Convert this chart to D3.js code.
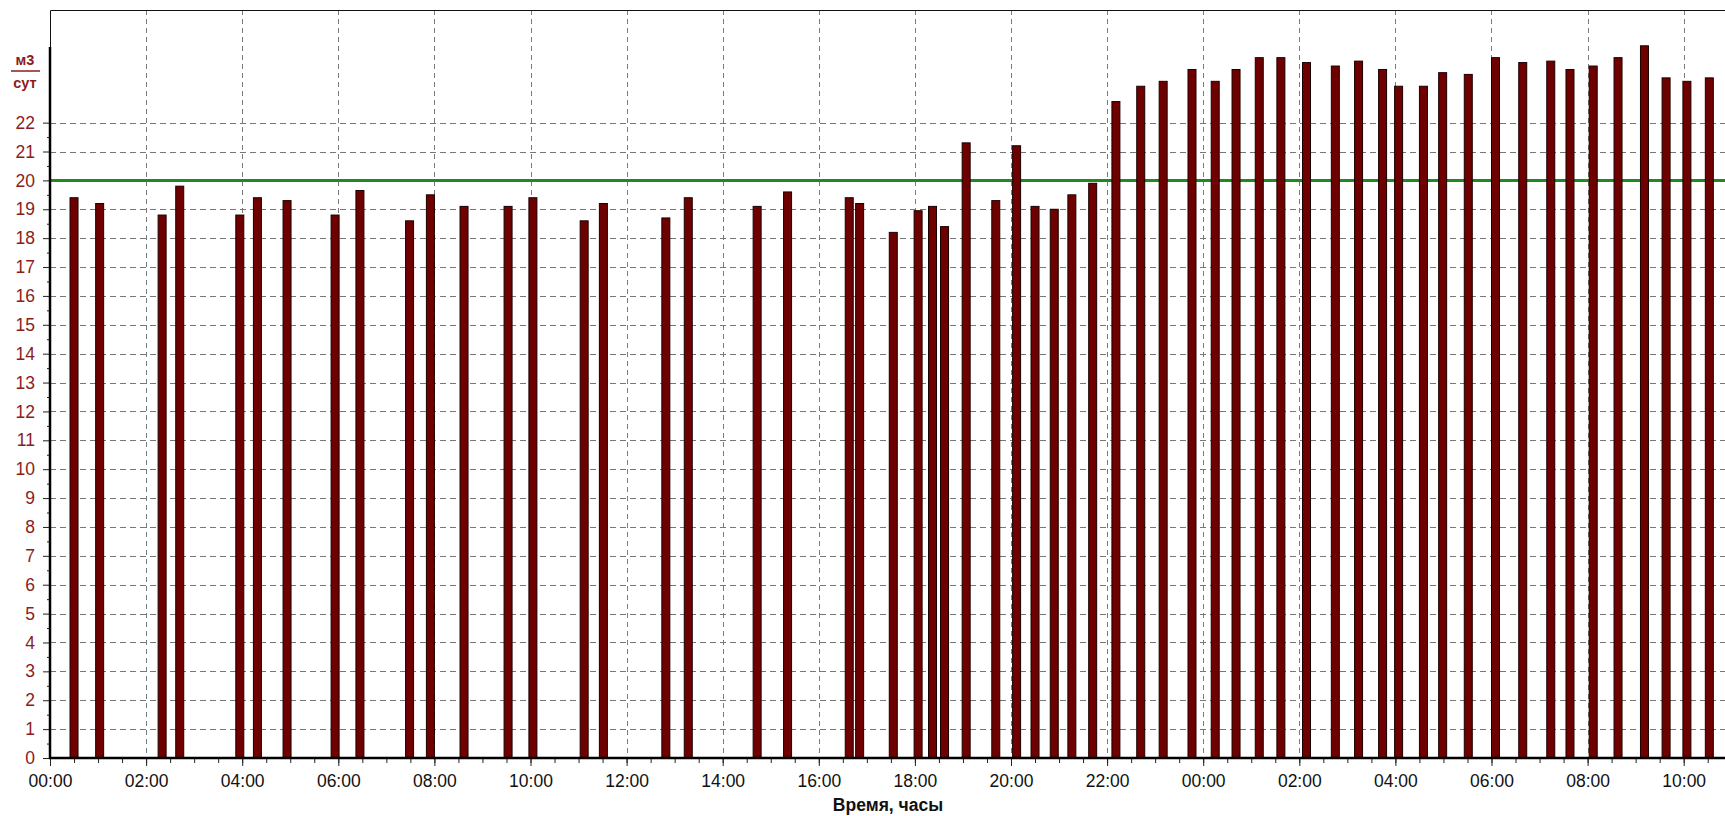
<!DOCTYPE html>
<html>
<head>
<meta charset="utf-8">
<script src="https://cdn.jsdelivr.net/npm/d3@7"></script>
<style>
    body { margin: 0; background: #fff; }
    svg { display: block; }
</style>
</head>
<body>
<div id="chart"></div>
<script>
// bar timestamps: "<day> HH:MM"
const bar_times = [
    "1 00:30", "1 01:02", "1 02:20", "1 02:42", "1 03:57", "1 04:19", "1 04:56", "1 05:56",
    "1 06:27", "1 07:29", "1 07:55", "1 08:37", "1 09:32", "1 10:03", "1 11:07", "1 11:31",
    "1 12:49", "1 13:17", "1 14:43", "1 15:21", "1 16:38", "1 16:51", "1 17:33", "1 18:04",
    "1 18:22", "1 18:37", "1 19:04", "1 19:41", "1 20:07", "1 20:30", "1 20:54", "1 21:16",
    "1 21:42", "1 22:11", "1 22:42", "1 23:10", "1 23:46", "2 00:15", "2 00:41", "2 01:10",
    "2 01:37", "2 02:09", "2 02:45", "2 03:14", "2 03:44", "2 04:04", "2 04:35", "2 04:59",
    "2 05:31", "2 06:05", "2 06:39", "2 07:14", "2 07:38", "2 08:07", "2 08:38", "2 09:11",
    "2 09:38", "2 10:04", "2 10:32"
]
const bar_values = [
    19.4, 19.2, 18.8, 19.8, 18.8, 19.4, 19.3, 18.8,
    19.65, 18.6, 19.5, 19.1, 19.1, 19.4, 18.6, 19.2,
    18.7, 19.4, 19.1, 19.6, 19.4, 19.2, 18.2, 18.95,
    19.1, 18.4, 21.3, 19.3, 21.2, 19.1, 19.0, 19.5,
    19.9, 22.73, 23.26, 23.43, 23.84, 23.43, 23.84, 24.25,
    24.25, 24.08, 23.96, 24.13, 23.84, 23.26, 23.26, 23.73,
    23.67, 24.25, 24.08, 24.13, 23.84, 23.96, 24.25, 24.66,
    23.55, 23.43, 23.55
]
const limit_value = 20
const y_tick_values = [0, 1, 2, 3, 4, 5, 6, 7, 8, 9, 10, 11, 12, 13, 14, 15, 16, 17, 18, 19, 20, 21, 22]
const x_tick_times = [
    "1 00:00", "1 02:00", "1 04:00", "1 06:00", "1 08:00", "1 10:00", "1 12:00", "1 14:00", "1 16:00",
    "1 18:00", "1 20:00", "1 22:00", "2 00:00", "2 02:00", "2 04:00", "2 06:00", "2 08:00", "2 10:00"
]
const x_domain = ["1 00:00", "2 11:00"]
const unit_top = "м3"
const unit_bottom = "сут"
const x_title = "Время, часы"

const width = 1725
const height = 816
const plot_left = 50
const plot_top = 10
const plot_bottom = 758
const font = "'Liberation Sans', Arial, sans-serif"

const parse_time = d3.timeParse("%d %H:%M")
const data = bar_times.map((t, i) => ({ time: parse_time(t), value: bar_values[i] }))
const x_ticks = x_tick_times.map(parse_time)

const x = d3.scaleTime()
    .domain(x_domain.map(parse_time))
    .range([plot_left, plot_left + 35 * 48.05])
const y = d3.scaleLinear()
    .domain([0, 25.9])
    .range([plot_bottom, plot_top])

const svg = d3.select('#chart')
    .append('svg')
    .attr('width', width)
    .attr('height', height)
    .style('font-family', font)

// grid
svg.append('g')
    .selectAll('line')
    .data(y_tick_values.filter(v => v > 0))
    .enter()
    .append('line')
    .attr('x1', plot_left)
    .attr('x2', width)
    .attr('y1', d => Math.round(y(d)) + 0.5)
    .attr('y2', d => Math.round(y(d)) + 0.5)
    .attr('stroke', '#777')
    .attr('stroke-dasharray', '6,4')

svg.append('g')
    .selectAll('line')
    .data(x_ticks.slice(1))
    .enter()
    .append('line')
    .attr('x1', d => Math.round(x(d)) + 0.5)
    .attr('x2', d => Math.round(x(d)) + 0.5)
    .attr('y1', plot_top)
    .attr('y2', plot_bottom)
    .attr('stroke', '#7a7a7a')
    .attr('stroke-dasharray', '5,4')

// limit line
svg.append('line')
    .attr('x1', plot_left)
    .attr('x2', width)
    .attr('y1', y(limit_value))
    .attr('y2', y(limit_value))
    .attr('stroke', '#1f8a1f')
    .attr('stroke-width', 3)

// bars
const bar_width = 8
svg.append('g')
    .selectAll('rect')
    .data(data)
    .enter()
    .append('rect')
    .attr('x', d => x(d.time) - bar_width / 2)
    .attr('y', d => y(d.value))
    .attr('width', bar_width)
    .attr('height', d => y(0) - y(d.value))
    .attr('fill', '#6e0000')
    .attr('stroke', '#1a0000')
    .attr('stroke-width', 1)

// frame
svg.append('path')
    .attr('d', `M${width},${plot_top + 0.5}H${plot_left + 0.5}V${plot_bottom}`)
    .attr('fill', 'none')
    .attr('stroke', '#111')
    .attr('stroke-width', 1)

// x axis: minor every 30 min, major with labels every 2 h
const x_minor = d3.axisBottom(x)
    .tickValues(d3.timeMinute.every(30).range(x.domain()[0], x.domain()[1]))
    .tickSize(5)
    .tickFormat('')
svg.append('g')
    .attr('transform', `translate(0, ${plot_bottom})`)
    .call(x_minor)
    .call(g => g.select('.domain').remove())

const x_major = d3.axisBottom(x)
    .tickValues(x_ticks)
    .tickSize(8)
    .tickPadding(9)
    .tickFormat(d3.timeFormat('%H:%M'))
const x_axis = svg.append('g')
    .attr('transform', `translate(0, ${plot_bottom})`)
    .call(x_major)
x_axis.select('.domain').remove()
x_axis.selectAll('text')
    .attr('font-size', 17.5)
    .attr('font-family', font)
    .attr('fill', '#111')

// y axis
const y_minor = d3.axisLeft(y)
    .tickValues(d3.range(0.5, 22.5, 1))
    .tickSize(3)
    .tickFormat('')
svg.append('g')
    .attr('transform', `translate(${plot_left}, 0)`)
    .call(y_minor)
    .call(g => g.select('.domain').remove())

const y_major = d3.axisLeft(y)
    .tickValues(y_tick_values)
    .tickSize(7)
    .tickPadding(8)
const y_axis = svg.append('g')
    .attr('transform', `translate(${plot_left}, 0)`)
    .call(y_major)
y_axis.select('.domain').remove()
y_axis.selectAll('text')
    .attr('font-size', 17.5)
    .attr('font-family', font)
    .attr('fill', '#8b1c1c')
svg.selectAll('.tick line').attr('stroke', '#222')

// thick axis lines
svg.append('path')
    .attr('d', `M${plot_left},47V${plot_bottom}H${width}`)
    .attr('fill', 'none')
    .attr('stroke', '#000')
    .attr('stroke-width', 2.5)

// unit label
const unit = svg.append('g')
    .attr('fill', '#8b1c1c')
    .attr('font-weight', 'bold')
    .attr('font-size', 14.5)
    .attr('text-anchor', 'middle')
unit.append('text').attr('x', 25).attr('y', 65).text(unit_top)
unit.append('line')
    .attr('x1', 11).attr('x2', 40)
    .attr('y1', 71).attr('y2', 71)
    .attr('stroke', '#8b1c1c')
    .attr('stroke-width', 1.5)
unit.append('text').attr('x', 25).attr('y', 88).text(unit_bottom)

svg.append('text')
    .attr('x', 888)
    .attr('y', 811)
    .attr('text-anchor', 'middle')
    .attr('font-weight', 'bold')
    .attr('font-size', 17.5)
    .attr('fill', '#111')
    .text(x_title)
</script>
</body>
</html>
